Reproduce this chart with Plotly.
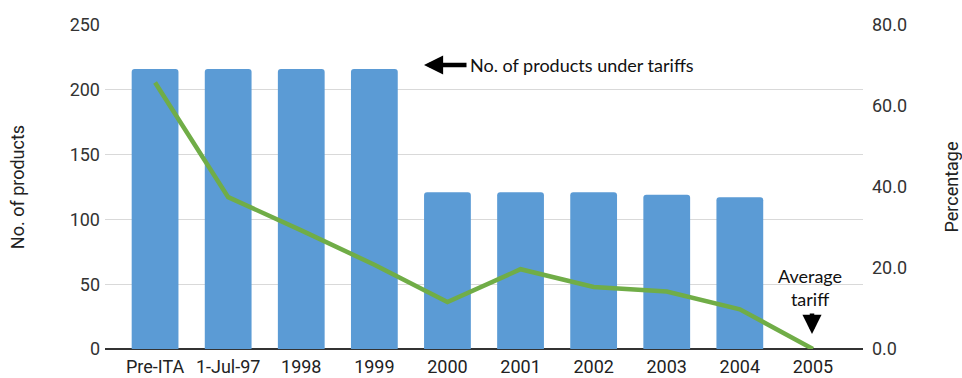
import plotly.graph_objects as go

categories = ["Pre-ITA", "1-Jul-97", "1998", "1999", "2000", "2001", "2002", "2003", "2004", "2005"]
products = [216, 216, 216, 216, 121, 121, 121, 119, 117, None]
tariff = [65.8, 37.5, 29.3, 20.8, 11.6, 19.7, 15.3, 14.2, 9.8, 0.0]

BAR = "#5B9BD5"
LINE = "#70AD47"
AX = "Roboto"
NOTE = "Lato"

fig = go.Figure()
fig.add_trace(go.Bar(x=categories, y=products, marker=dict(color=BAR, cornerradius=3, line=dict(width=0)),
                     width=0.64, yaxis="y", showlegend=False))
fig.add_trace(go.Scatter(x=categories, y=tariff, mode="lines", line=dict(color=LINE, width=4.5),
                         yaxis="y2", showlegend=False))

fig.update_layout(
    width=962, height=378,
    margin=dict(l=105, r=99, t=25, b=29),
    plot_bgcolor="white", paper_bgcolor="white",
    font=dict(family=AX, size=18, color="#333333"),
    xaxis=dict(type="category", range=[-0.685, 9.685], showgrid=False, ticks="",
               showline=False, zeroline=False, automargin=False, ticklabelstandoff=5,
               tickfont=dict(family=AX, size=18, color="#222222")),
    yaxis=dict(range=[0, 250], dtick=50, showgrid=True, gridcolor="#d9d9d9", gridwidth=1,
               zeroline=True, zerolinecolor="#333333", zerolinewidth=1.5, automargin=False,
               ticklabelstandoff=4,
               title=dict(text="No. of products", font=dict(family=AX, size=18, color="#222222"), standoff=40),
               tickfont=dict(family=AX, size=18, color="#333333"), ticks="", ticklen=0),
    yaxis2=dict(range=[0, 80], dtick=20, tickformat=".1f", overlaying="y", side="right",
                showgrid=False, zeroline=False, automargin=False, ticklabelstandoff=8,
                title=dict(text="Percentage", font=dict(family=AX, size=18, color="#222222"), standoff=46),
                tickfont=dict(family=AX, size=18, color="#333333")),
    bargap=0.36,
)

def px(xp):
    return (xp - 105) / 758

def py(yp):
    return (349 - yp) / 324

# arrow pointing left toward bars
fig.add_annotation(xref="paper", yref="paper", x=px(424), y=py(65), ax=44, ay=0,
                   axref="pixel", ayref="pixel", text="", showarrow=True,
                   arrowhead=2, arrowsize=0.85, arrowwidth=4.5, arrowcolor="black")
fig.add_annotation(xref="paper", yref="paper", x=px(468), y=py(65), xanchor="left", yanchor="middle",
                   text="No. of products under tariffs", showarrow=False,
                   font=dict(family=NOTE, size=18, color="#111111"))
fig.add_annotation(xref="paper", yref="paper", x=px(810), y=py(287), xanchor="center", yanchor="middle",
                   text="Average<br>tariff", showarrow=False, align="center",
                   font=dict(family=NOTE, size=18, color="#111111"))
fig.add_annotation(xref="paper", yref="paper", x=px(812), y=py(334), ax=0, ay=-22,
                   axref="pixel", ayref="pixel", text="", showarrow=True,
                   arrowhead=2, arrowsize=0.85, arrowwidth=4.5, arrowcolor="black")

fig.write_html("out.html")
